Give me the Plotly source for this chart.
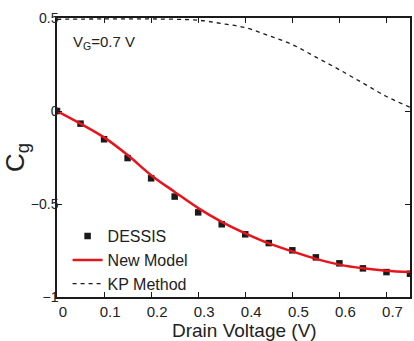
import plotly.graph_objects as go

# DESSIS simulation points
dessis_x = [0, 0.05, 0.1, 0.15, 0.2, 0.25, 0.3, 0.35, 0.4, 0.45, 0.5, 0.55, 0.6, 0.65, 0.7, 0.75]
dessis_y = [0, -0.068, -0.152, -0.253, -0.362, -0.46, -0.545, -0.609, -0.663, -0.71, -0.749, -0.787, -0.819, -0.846, -0.866, -0.875]

# New Model curve
model_x = [0, 0.05, 0.1, 0.15, 0.2, 0.25, 0.3, 0.35, 0.4, 0.45, 0.5, 0.55, 0.6, 0.65, 0.7, 0.75]
model_y = [0, -0.068, -0.142, -0.237, -0.345, -0.435, -0.522, -0.596, -0.658, -0.712, -0.755, -0.795, -0.826, -0.846, -0.859, -0.866]

# KP Method curve
kp_x = [0, 0.1, 0.2, 0.3, 0.35, 0.4, 0.45, 0.5, 0.55, 0.6, 0.65, 0.7, 0.75]
kp_y = [0.493, 0.495, 0.495, 0.488, 0.47, 0.448, 0.405, 0.357, 0.29, 0.222, 0.15, 0.078, 0.02]

x_ticks = [0, 0.1, 0.2, 0.3, 0.4, 0.5, 0.6, 0.7]
x_ticklabels = ["0", "0.1", "0.2", "0.3", "0.4", "0.5", "0.6", "0.7"]
y_ticks = [-1, -0.5, 0, 0.5]
y_ticklabels = ["\u22121", "\u22120.5", "0", "0.5"]

FONT = "Liberation Sans, Arial, sans-serif"

fig = go.Figure()
fig.add_trace(go.Scatter(x=dessis_x, y=dessis_y, mode="markers", name="DESSIS",
                         marker=dict(symbol="square", size=6.5, color="#1a1a1a")))
fig.add_trace(go.Scatter(x=model_x, y=model_y, mode="lines", name="New Model",
                         line=dict(color="#e8141c", width=2.5, shape="spline")))
fig.add_trace(go.Scatter(x=kp_x, y=kp_y, mode="lines", name="KP Method",
                         line=dict(color="#1a1a1a", width=1.3, dash="4px,4px", shape="spline")))

axis_common = dict(showline=True, linecolor="#1a1a1a", linewidth=1.5, mirror="ticks",
                   ticks="inside", ticklen=5, tickcolor="#1a1a1a", showgrid=False,
                   zeroline=False)

fig.update_xaxes(range=[0, 0.75], tickvals=x_ticks, ticktext=x_ticklabels,
                 tickfont=dict(family=FONT, size=15, color="#222"),
                 ticklabelshift=6, ticklabelstandoff=0,
                 **axis_common)
fig.update_yaxes(range=[-1, 0.5], tickvals=y_ticks, ticktext=y_ticklabels,
                 tickfont=dict(family=FONT, size=14, color="#222"),
                 ticklabelstandoff=-6,
                 title=dict(text="C<sub>g</sub>", font=dict(family=FONT, size=26, color="#222"), standoff=0),
                 **axis_common)

# x-axis title (placed as paper annotation, slightly right of centre as in the reference)
fig.add_annotation(x=0.532, y=0, xref="paper", yref="paper", yshift=-33,
                   text="Drain Voltage (V)", showarrow=False,
                   xanchor="center", yanchor="middle",
                   font=dict(family=FONT, size=19, color="#222"))

fig.add_annotation(x=0.03, y=0.37, xref="x", yref="y", text="V<sub>G</sub>=0.7 V",
                   showarrow=False, xanchor="left", yanchor="middle",
                   font=dict(family=FONT, size=15, color="#222"))

fig.update_layout(
    width=414, height=341,
    margin=dict(l=57, r=2, t=18, b=44),
    paper_bgcolor="white", plot_bgcolor="white",
    showlegend=True,
    legend=dict(x=0.03, y=-0.015, xanchor="left", yanchor="bottom",
                bgcolor="rgba(0,0,0,0)", font=dict(family=FONT, size=16, color="#222"),
                tracegroupgap=0, itemwidth=30),
)

fig.write_html("out.html")
